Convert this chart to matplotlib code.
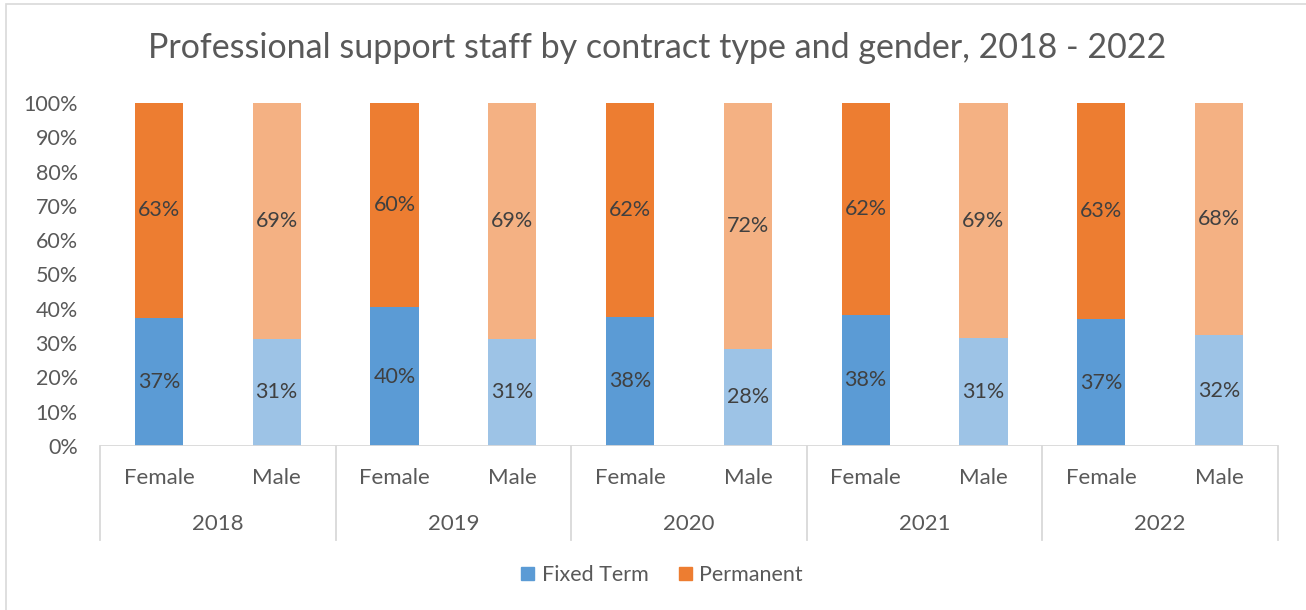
import matplotlib
matplotlib.use("Agg")
import matplotlib.pyplot as plt
from matplotlib.patches import Rectangle, Patch
from matplotlib.transforms import blended_transform_factory

years = ["2018", "2019", "2020", "2021", "2022"]
genders = ["Female", "Male"]
fixed_term = [37.4, 31.2, 40.4, 31.2, 37.7, 28.3, 38.2, 31.4, 37.0, 32.3]
permanent = [62.6, 68.8, 59.6, 68.8, 62.3, 71.7, 61.8, 68.6, 63.0, 67.7]
fixed_labels = ["37%", "31%", "40%", "31%", "38%", "28%", "38%", "31%", "37%", "32%"]
perm_labels = ["63%", "69%", "60%", "69%", "62%", "72%", "62%", "69%", "63%", "68%"]

title = "Professional support staff by contract type and gender, 2018 - 2022"

plt.rcParams['font.family'] = ['Lato', 'DejaVu Sans']
TXT = "#595959"
LBL = "#404040"
GRID = "#D9D9D9"
c_fixed = ["#5B9BD5", "#9DC3E6"]
c_perm = ["#ED7D31", "#F4B183"]

W, H = 1306, 610
fig = plt.figure(figsize=(W / 100, H / 100), dpi=100)
fig.patch.set_facecolor("white")

# chart frame
fig.add_artist(Rectangle((6 / W, -0.1), 1.2, 1 - 4 / H + 0.1, transform=fig.transFigure,
                         fill=False, edgecolor=GRID, linewidth=1.2))

left, right, bottom, top = 100 / W, 1278 / W, (H - 446) / H, (H - 103) / H
ax = fig.add_axes([left, bottom, right - left, top - bottom])

n = len(fixed_term)
xs = [i + 0.5 for i in range(n)]
bw = 0.41
for i in range(n):
    g = i % 2
    ax.bar(xs[i], fixed_term[i], width=bw, color=c_fixed[g], zorder=2)
    ax.bar(xs[i], permanent[i], bottom=fixed_term[i], width=bw, color=c_perm[g], zorder=2)
    ax.text(xs[i], fixed_term[i] / 2, fixed_labels[i], ha="center", va="center",
            fontsize=15.5, color=LBL)
    ax.text(xs[i], fixed_term[i] + permanent[i] / 2, perm_labels[i], ha="center", va="center",
            fontsize=15.5, color=LBL)

ax.set_xlim(0, n)
ax.set_ylim(0, 100)
ax.set_yticks(range(0, 101, 10))
ax.set_yticklabels([f"{v}%" for v in range(0, 101, 10)])
ax.tick_params(axis="y", length=0, pad=16, labelsize=15.5, labelcolor=TXT)
ax.set_xticks([])
for s in ax.spines.values():
    s.set_visible(False)
ax.axhline(0, color=GRID, linewidth=1.3, zorder=3)

tr = blended_transform_factory(ax.transData, ax.transAxes)
axh = 343.0
for k in range(0, n + 1, 2):
    ax.plot([k, k], [0, -(540 - 446) / axh], transform=tr, color=GRID, linewidth=1.3,
            clip_on=False)
for i in range(n):
    ax.text(xs[i], -(478 - 446) / axh, genders[i % 2], transform=tr, ha="center",
            va="center", fontsize=16, color=TXT)
for j, y in enumerate(years):
    ax.text(2 * j + 1, -(524 - 446) / axh, y, transform=tr, ha="center", va="center",
            fontsize=16, color=TXT)

fig.text(657 / W, 1 - 48 / H, title, ha="center", va="center", fontsize=24.5, color=TXT)

handles = [Patch(color=c_fixed[0], label="Fixed Term"), Patch(color=c_perm[0], label="Permanent")]
fig.legend(handles=handles, loc="center", bbox_to_anchor=(662 / W, 1 - 575 / H), ncol=2,
           frameon=False, fontsize=15.5, labelcolor=TXT, handlelength=0.6, handleheight=0.6,
           handletextpad=0.35, columnspacing=1.4)

fig.savefig("out.png", dpi=100, facecolor="white")
